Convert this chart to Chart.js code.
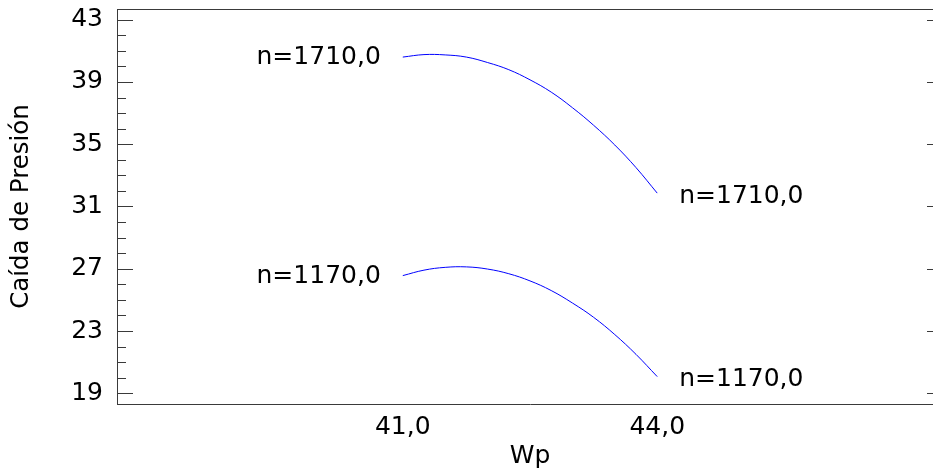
<!DOCTYPE html>
<html>
<head>
<meta charset="utf-8">
<script src="https://cdn.jsdelivr.net/npm/chart.js@4.4.1/dist/chart.umd.min.js"></script>
<style>
  html, body { margin: 0; padding: 0; overflow: hidden; background: #ffffff; }
  #wrap { width: 960px; height: 471px; }
</style>
</head>
<body>
<div id="wrap"><canvas id="c" width="960" height="471"></canvas></div>
<script>
// ---- data ----
const wpValues   = [41.0, 41.25, 41.5, 41.75, 42.0, 42.25, 42.5, 42.75, 43.0, 43.25, 43.5, 43.75, 44.0];
const dropN1710  = [40.60, 40.76, 40.74, 40.60, 40.25, 39.79, 39.14, 38.35, 37.35, 36.22, 34.95, 33.50, 31.86];
const dropN1170  = [26.56, 26.91, 27.09, 27.12, 26.98, 26.68, 26.22, 25.60, 24.80, 23.88, 22.77, 21.50, 20.07];
const seriesLabels = ['n=1710,0', 'n=1170,0'];
const xTickValues = [41, 44];
const xTickLabels = ['41,0', '44,0'];
const yMajorTicks = [19, 23, 27, 31, 35, 39, 43];
const yTickLabels = ['19', '23', '27', '31', '35', '39', '43'];
const yMinorTicks = [20, 21, 22, 24, 25, 26, 28, 29, 30, 32, 33, 34, 36, 37, 38, 40, 41, 42];
const xTitle = 'Wp';
const yTitle = 'Caída de Presión';

const FONT = 'DejaVu Sans';
const AXIS_COLOR = '#3a3a3a';

function pairs(xs, ys) { return xs.map((x, i) => ({ x: x, y: ys[i] })); }

function noPad(scale) {
  scale.paddingTop = 0; scale.paddingBottom = 0;
  scale.paddingLeft = 0; scale.paddingRight = 0;
}

const framePlugin = {
  id: 'frame',
  afterDatasetsDraw(chart) {
    const ctx = chart.ctx;
    const a = chart.chartArea;
    const ys = chart.scales.y;
    ctx.save();
    ctx.strokeStyle = AXIS_COLOR;
    ctx.lineWidth = 1;
    // top and right frame lines
    ctx.beginPath();
    ctx.moveTo(a.left, a.top + 0.5);
    ctx.lineTo(a.right, a.top + 0.5);
    ctx.moveTo(a.right - 0.5, a.top);
    ctx.lineTo(a.right - 0.5, a.bottom);
    ctx.stroke();
    // inward tick marks
    ctx.beginPath();
    yMajorTicks.forEach(v => {
      const p = Math.round(ys.getPixelForValue(v)) + 0.5;
      ctx.moveTo(a.left, p); ctx.lineTo(a.left + 16, p);
      ctx.moveTo(a.right, p); ctx.lineTo(a.right - 16, p);
    });
    yMinorTicks.forEach(v => {
      const p = Math.round(ys.getPixelForValue(v)) + 0.5;
      ctx.moveTo(a.left, p); ctx.lineTo(a.left + 9, p);
    });
    ctx.stroke();
    // curve labels at both ends
    ctx.fillStyle = '#000000';
    ctx.font = '25px "' + FONT + '"';
    ctx.textBaseline = 'middle';
    chart.data.datasets.forEach((ds, i) => {
      const pts = chart.getDatasetMeta(i).data;
      const first = pts[0], last = pts[pts.length - 1];
      ctx.textAlign = 'right';
      ctx.fillText(seriesLabels[i], first.x - 22, first.y + 0.5);
      ctx.textAlign = 'left';
      ctx.fillText(seriesLabels[i], last.x + 22, last.y + 3);
    });
    ctx.restore();
  }
};

new Chart(document.getElementById('c'), {
  type: 'scatter',
  data: {
    datasets: [
      { label: seriesLabels[0], data: pairs(wpValues, dropN1710) },
      { label: seriesLabels[1], data: pairs(wpValues, dropN1170) }
    ].map(d => Object.assign(d, {
      showLine: true,
      borderColor: '#0000ff',
      borderWidth: 1,
      pointRadius: 0,
      tension: 0.4,
      fill: false
    }))
  },
  options: {
    responsive: false,
    animation: false,
    events: [],
    layout: { padding: { left: 0, top: 9, right: 17, bottom: 0 } },
    plugins: { legend: { display: false }, tooltip: { enabled: false } },
    scales: {
      x: {
        type: 'linear',
        min: 37.63, max: 47.37,
        afterBuildTicks(scale) { scale.ticks = xTickValues.map(v => ({ value: v })); },
        afterFit(scale) { scale.height = 67; noPad(scale); },
        grid: { display: false, drawTicks: false },
        border: { display: true, color: AXIS_COLOR, width: 1 },
        ticks: {
          autoSkip: false, maxRotation: 0, padding: 8.5,
          color: '#000000',
          font: { family: FONT, size: 25 },
          callback: (v) => { const i = xTickValues.indexOf(v); return i >= 0 ? xTickLabels[i] : ''; }
        },
        title: {
          display: true, text: xTitle, color: '#000000',
          font: { family: FONT, size: 25 },
          padding: { top: 0, bottom: 0 }
        }
      },
      y: {
        type: 'linear',
        min: 18.31, max: 43.69,
        afterBuildTicks(scale) { scale.ticks = yMajorTicks.map(v => ({ value: v })); },
        afterFit(scale) { scale.width = 117; noPad(scale); },
        grid: { display: false, drawTicks: false },
        border: { display: true, color: AXIS_COLOR, width: 1 },
        ticks: {
          autoSkip: false, padding: 14,
          color: '#000000',
          font: { family: FONT, size: 25 },
          callback: (v) => { const i = yMajorTicks.indexOf(v); return i >= 0 ? yTickLabels[i] : ''; }
        },
        title: {
          display: true, text: yTitle, color: '#000000',
          font: { family: FONT, size: 24.5 },
          padding: { top: 7, bottom: 0 }
        }
      }
    }
  },
  plugins: [framePlugin]
});
</script>
</body>
</html>
